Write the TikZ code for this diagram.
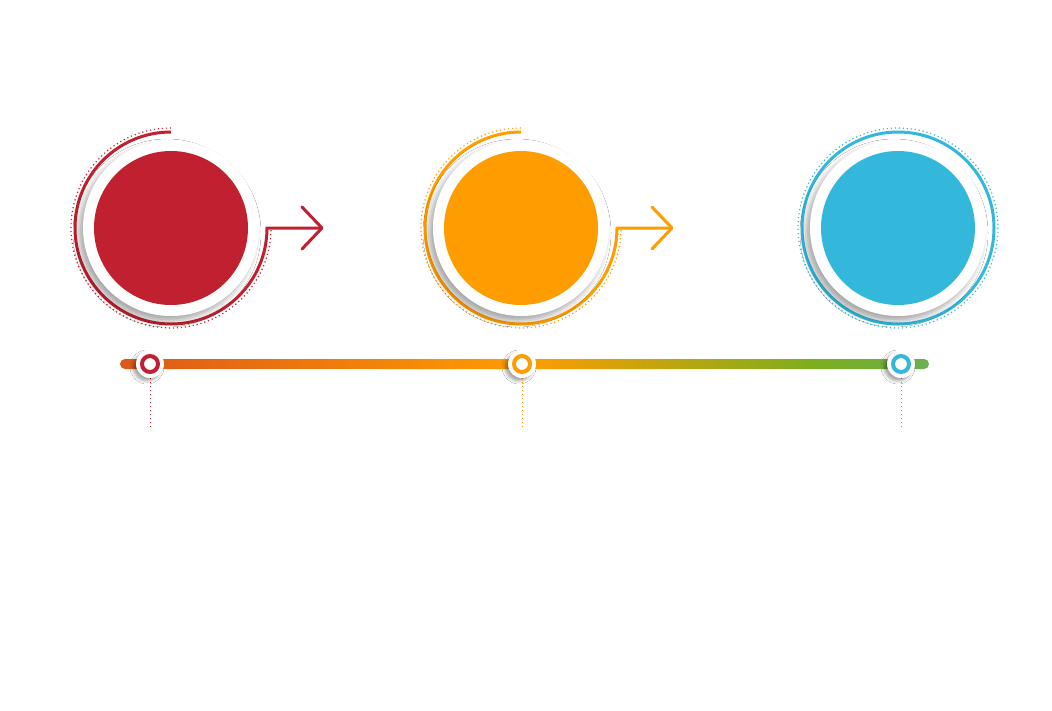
\documentclass[tikz,border=0pt]{standalone}
\usetikzlibrary{shadows.blur}
\definecolor{cred}{HTML}{C0202F}
\definecolor{corange}{HTML}{FF9C00}
\definecolor{cblue}{HTML}{33B8DC}
\definecolor{cgreen}{HTML}{7CAE1E}
\pgfdeclarehorizontalshading{tl}{100bp}{color(0bp)=(cred);color(4bp)=(cred);color(50bp)=(corange);color(68bp)=(cgreen);color(96bp)=(cblue);color(100bp)=(cblue)}
\begin{document}
\begin{tikzpicture}[x=1pt,y=-1pt,
  ring/.style={circle,fill=white,minimum size=176pt,inner sep=0,blur shadow={shadow xshift=-4pt,shadow yshift=-5pt,shadow blur radius=6pt,shadow opacity=35}},
  core/.style={circle,minimum size=154pt,inner sep=0},
  dots/.style={line width=1.2pt,dash pattern=on 1.2pt off 2.8pt},
  mark/.style={}]
\useasboundingbox (0,0) rectangle (1052,710);
\fill[white] (0,0) rectangle (1052,710);
% circle 1
\coordinate (c1) at (171,228);
\draw[cred,dots] ([shift={(0,-100)}]c1) arc[start angle=-90,end angle=-360,radius=100];
\draw[cred,line width=3pt] ([shift={(0,-96)}]c1) arc[start angle=-90,end angle=-360,radius=96] -- ++(55,0) coordinate (a1);
\draw[cred,line width=3pt,line cap=round,line join=round] ([shift={(-20,-21)}]a1) -- (a1) -- ([shift={(-20,21)}]a1);
\node[ring] (r1) at (c1) {};
\node[core,fill=cred] (k1) at (c1) {};
% circle 2
\coordinate (c2) at (521,228);
\draw[corange,dots] ([shift={(0,-100)}]c2) arc[start angle=-90,end angle=-360,radius=100];
\draw[corange,line width=3pt] ([shift={(0,-96)}]c2) arc[start angle=-90,end angle=-360,radius=96] -- ++(55,0) coordinate (a2);
\draw[corange,line width=3pt,line cap=round,line join=round] ([shift={(-20,-21)}]a2) -- (a2) -- ([shift={(-20,21)}]a2);
\node[ring] (r2) at (c2) {};
\node[core,fill=corange] (k2) at (c2) {};
% circle 3
\coordinate (c3) at (898,228);
\draw[cblue,dots] (c3) circle[radius=100];
\draw[cblue,line width=3pt] (c3) circle[radius=96];
\node[ring] (r3) at (c3) {};
\node[core,fill=cblue] (k3) at (c3) {};
% timeline
\shade[shading=tl,rounded corners=5pt] (120,359) rectangle (929,369);
\foreach \x/\c/\n in {150/cred/m1,522/corange/m2,901/cblue/m3}{
  \draw[\c,dots,line width=1pt] (\x,378) -- (\x,428);
  \node[circle,fill=white,minimum size=28pt,inner sep=0,blur shadow={shadow xshift=-3pt,shadow yshift=-3pt,shadow blur radius=3pt,shadow opacity=35}] (\n) at (\x,364) {};
  \node[circle,draw=\c,line width=4pt,fill=white,minimum size=16pt,inner sep=0] at (\n) {};
}
\end{tikzpicture}
\end{document}
